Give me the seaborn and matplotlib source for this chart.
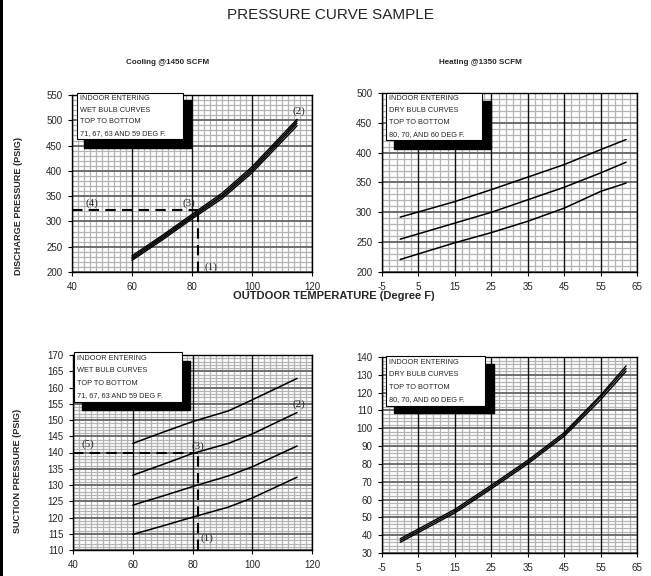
import numpy as np
import pandas as pd
import matplotlib
matplotlib.use('Agg')
import matplotlib.pyplot as plt
import matplotlib.patches as patches
import seaborn as sns

# ---- data ----
cool_x = [60, 70, 80, 90, 100, 115]
cool_wb = ['71', '67', '63', '59']
cool_discharge = [
    [232, 272, 314, 356, 408, 502],
    [229, 269, 311, 352, 404, 498],
    [226, 266, 308, 349, 400, 494],
    [223, 263, 305, 345, 396, 489],
]
cool_suction_x = [60, 70, 80, 92, 100, 115]
cool_suction = [
    [142.8, 146.2, 149.5, 152.8, 156.2, 162.8],
    [133.0, 136.3, 139.7, 142.8, 145.7, 152.3],
    [123.8, 126.6, 129.5, 132.8, 135.6, 142.0],
    [114.8, 117.4, 120.1, 123.2, 126.0, 132.4],
]

heat_x = [0, 15, 25, 35, 45, 55, 62]
heat_db = ['80', '70', '60']
heat_discharge = [
    [292, 318, 338, 359, 380, 405, 422],
    [255, 282, 300, 321, 342, 366, 384],
    [221, 249, 266, 285, 307, 335, 349],
]
heat_suction_x = [0, 5, 15, 25, 35, 45, 55, 62]
heat_suction = [
    [38, 43.5, 54.5, 68, 82, 97.5, 118.5, 135],
    [37, 42.5, 53.5, 67, 81, 96.5, 117.5, 133.5],
    [36, 41.5, 52.5, 66, 80, 95.5, 116, 132],
]

# example reading: outdoor 82 F -> discharge 322, suction 140
read_temp = 82
read_discharge = 322
read_suction = 140

cool_note = ['INDOOR ENTERING', 'WET BULB CURVES', 'TOP TO BOTTOM', '71, 67, 63 AND 59 DEG F.']
heat_note = ['INDOOR ENTERING', 'DRY BULB CURVES', 'TOP TO BOTTOM', '80, 70, AND 60 DEG F.']

sns.set_theme(style='white')
plt.rcParams['font.family'] = ['Liberation Sans Narrow', 'Liberation Sans', 'DejaVu Sans']
plt.rcParams['axes.unicode_minus'] = False
NARROW = ['Liberation Sans Narrow', 'Liberation Sans', 'DejaVu Sans']
SANS = ['Liberation Sans', 'DejaVu Sans']
SERIF = ['Liberation Serif', 'DejaVu Serif']


def long_frame(x, series, names):
    rows = []
    for name, ys in zip(names, series):
        for xv, yv in zip(x, ys):
            rows.append({'temp': xv, 'pressure': yv, 'curve': name})
    return pd.DataFrame(rows)


def minor_only(lo, hi, step, major):
    vals = np.arange(lo, hi + step / 2, step)
    return [v for v in vals if not np.any(np.isclose(v, major))]


def style_axes(ax, xlim, xmajor, xstep, ylim, ymajor, ystep):
    ax.set_xlim(*xlim)
    ax.set_ylim(*ylim)
    ax.set_xticks(xmajor)
    ax.set_xticks(minor_only(xlim[0], xlim[1], xstep, xmajor), minor=True)
    ax.set_yticks(ymajor)
    ax.set_yticks(minor_only(ylim[0], ylim[1], ystep, ymajor), minor=True)
    # light chart-paper grid
    ax.xaxis.grid(True, which='minor', color='#b4b4b4', lw=0.9, ls='-')
    ax.yaxis.grid(True, which='minor', color='#b4b4b4', lw=0.9, ls='-')
    ax.set_axisbelow(True)
    # heavy lines on top of the light grid: gray horizontals, black verticals
    for yv in ymajor:
        ax.axhline(yv, color='#6e6e6e', lw=1.4, zorder=0.7)
    for xv in xmajor:
        ax.axvline(xv, color='#111111', lw=1.0, zorder=0.8)
    ax.tick_params(which='minor', length=0)
    ax.tick_params(which='major', direction='out', length=3, width=0.8,
                   color='black', labelsize=7, pad=4, bottom=True, left=True)
    for lab in ax.get_xticklabels() + ax.get_yticklabels():
        lab.set_fontfamily(SANS)
    for sp in ax.spines.values():
        sp.set_color('black')
        sp.set_linewidth(1.0)
    ax.set_xlabel('')
    ax.set_ylabel('')


def note_box(ax, box, shadow, lines):
    sx0, sy0, sx1, sy1 = shadow
    bx0, by0, bx1, by1 = box
    ax.add_patch(patches.Rectangle((sx0, sy0), sx1 - sx0, sy1 - sy0, transform=ax.transAxes,
                                   facecolor='black', edgecolor='black', clip_on=False, zorder=5))
    ax.add_patch(patches.Rectangle((bx0, by0), bx1 - bx0, by1 - by0, transform=ax.transAxes,
                                   facecolor='white', edgecolor='black', lw=0.8, clip_on=False, zorder=6))
    h = (by1 - by0) / len(lines)
    for i, t in enumerate(lines):
        ax.text(bx0 + 0.012, by1 - h * (i + 0.5), t, transform=ax.transAxes, fontsize=5.3,
                family=NARROW, va='center', ha='left', zorder=7)


fig = plt.figure(figsize=(6.51, 5.76), dpi=100)
W, H = 651, 576


def add_ax(x0, y0, x1, y1):
    return fig.add_axes([x0 / W, 1 - y1 / H, (x1 - x0) / W, (y1 - y0) / H])


ax_cd = add_ax(72, 95, 312, 272)
ax_hd = add_ax(382, 93, 637, 272)
ax_cs = add_ax(73, 355, 312, 550)
ax_hs = add_ax(382, 357, 637, 553)

line_kw = dict(x='temp', y='pressure', units='curve', estimator=None, color='black', legend=False)

sns.lineplot(data=long_frame(cool_x, cool_discharge, cool_wb), ax=ax_cd, lw=1.0, **line_kw)
sns.lineplot(data=long_frame(heat_x, heat_discharge, heat_db), ax=ax_hd, lw=1.1, **line_kw)
sns.lineplot(data=long_frame(cool_suction_x, cool_suction, cool_wb), ax=ax_cs, lw=1.1, **line_kw)
sns.lineplot(data=long_frame(heat_suction_x, heat_suction, heat_db), ax=ax_hs, lw=1.0, **line_kw)

style_axes(ax_cd, (40, 120), np.arange(40, 121, 20), 2,
           (200, 550), np.arange(200, 551, 50), 10)
style_axes(ax_hd, (-5, 65), np.arange(-5, 66, 10), 2,
           (200, 500), np.arange(200, 501, 50), 10)
style_axes(ax_cs, (40, 120), np.arange(40, 121, 20), 2,
           (110, 170), np.arange(110, 171, 5), 1)
style_axes(ax_hs, (-5, 65), np.arange(-5, 66, 10), 2,
           (30, 140), np.arange(30, 141, 10), 2)

# example reading lines
dash = dict(color='black', lw=1.5, ls=(0, (5, 3)), zorder=4)
ax_cd.plot([40, read_temp], [read_discharge, read_discharge], **dash)
ax_cd.plot([read_temp, read_temp], [200, read_discharge], **dash)
ax_cs.plot([40, read_temp], [read_suction, read_suction], **dash)
ax_cs.plot([read_temp, read_temp], [110, read_suction], **dash)

lab = dict(fontsize=8, family=SERIF, ha='center', va='center', zorder=4)
ax_cd.text(115.7, 517, '(2)', **lab)
ax_cd.text(46.6, 336, '(4)', **lab)
ax_cd.text(78.8, 336, '(3)', **lab)
ax_cd.text(86.2, 209, '(1)', **lab)
ax_cs.text(115.7, 154.8, '(2)', **lab)
ax_cs.text(45.1, 142.6, '(5)', **lab)
ax_cs.text(81.9, 141.8, '(3)', **lab)
ax_cs.text(84.8, 113.6, '(1)', **lab)

note_box(ax_cd, (0.021, 0.751, 0.462, 1.011), (0.05, 0.701, 0.496, 0.972), cool_note)
note_box(ax_hd, (0.0145, 0.737, 0.393, 1.002), (0.047, 0.687, 0.427, 0.955), heat_note)
note_box(ax_cs, (0.004, 0.759, 0.456, 1.015), (0.038, 0.718, 0.490, 0.969), cool_note)
note_box(ax_hs, (0.0145, 0.751, 0.404, 1.005), (0.047, 0.714, 0.439, 0.964), heat_note)

# titles and shared labels
fig.text(330 / W, 1 - 15 / H, 'PRESSURE CURVE SAMPLE', ha='center', va='center',
         fontsize=11, family=SANS)
fig.text(168 / W, 1 - 63 / H, 'Cooling @1450 SCFM', ha='center', va='center',
         fontsize=5.8, weight='bold', family=NARROW)
fig.text(480 / W, 1 - 63 / H, 'Heating @1350 SCFM', ha='center', va='center',
         fontsize=5.8, weight='bold', family=NARROW)
fig.text(334 / W, 1 - 296 / H, 'OUTDOOR TEMPERATURE (Degree F)', ha='center', va='center',
         fontsize=8, weight='bold', family=NARROW)
fig.text(19 / W, 1 - 206 / H, 'DISCHARGE PRESSURE (PSIG)', ha='center', va='center',
         rotation=90, fontsize=6.6, weight='bold', family=NARROW)
fig.text(18 / W, 1 - 471 / H, 'SUCTION PRESSURE (PSIG)', ha='center', va='center',
         rotation=90, fontsize=6.6, weight='bold', family=NARROW)

# dark strip along the left edge of the scan
fig.patches.append(patches.Rectangle((0, 0), 3 / W, 1, transform=fig.transFigure,
                                     facecolor='black', edgecolor='none'))

fig.savefig('out.png', dpi=100)
